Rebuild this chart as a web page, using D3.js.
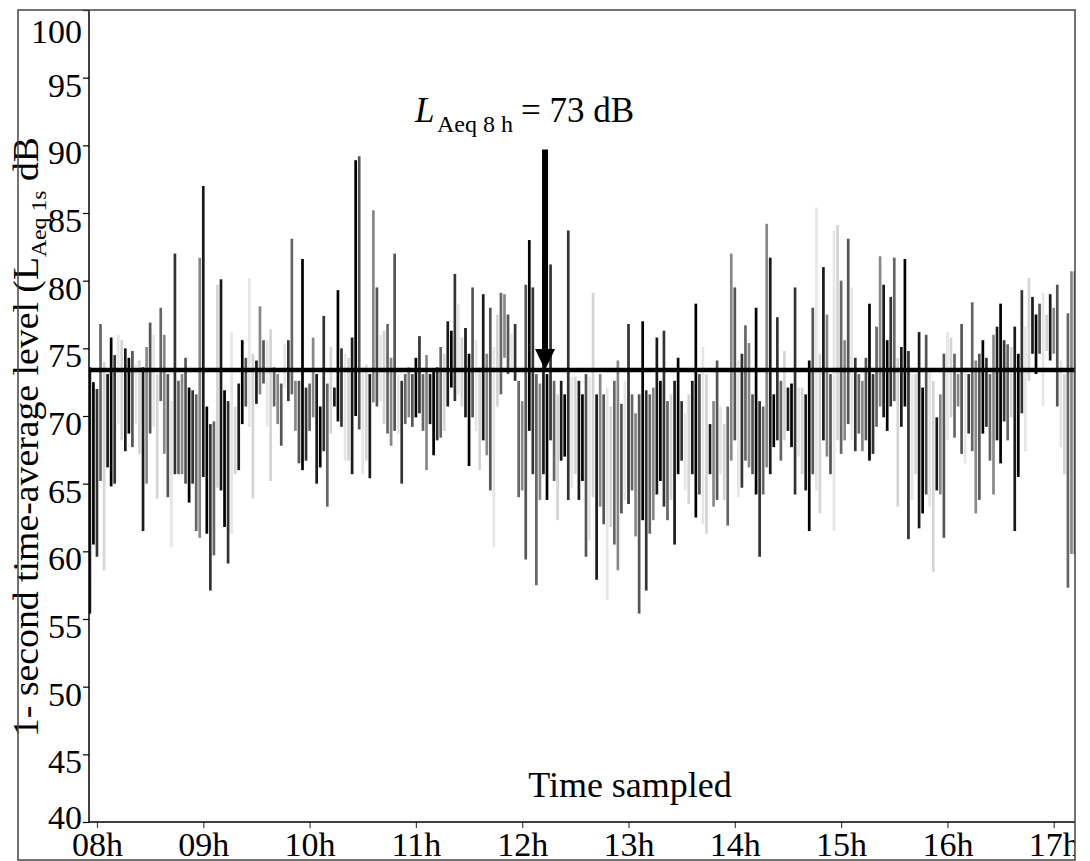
<!DOCTYPE html>
<html lang="en">
<head>
  <meta charset="UTF-8">
  <title>1-second LAeq over an 8 h shift</title>
  <script src="https://d3js.org/d3.v7.min.js"></script>
  <style>
    body { margin: 0; background: #fff; }
    svg { display: block; font-family: "Liberation Serif", "Times New Roman", serif; }
  </style>
</head>
<body>
  <svg width="1090" height="861"></svg>

  <script>
    // Sampling: one bin every 2 minutes, starting at 07:56
    const startHour = 7 + 56 / 60;
    const stepMinutes = 2;

    // Min / max of the 1-second levels (dB) inside each 2-minute bin
    const levelHigh = [
      73.6, 72.5, 72.0, 76.8, 74.0, 73.1, 75.8, 74.5, 76.0, 75.6,
      75.0, 74.3, 74.8, 73.8, 74.1, 73.6, 75.1, 76.9, 76.0, 73.1,
      78.0, 76.0, 73.1, 71.1, 82.0, 72.6, 73.1, 74.3, 72.1, 71.9,
      71.6, 81.7, 87.0, 70.7, 69.4, 69.6, 79.7, 80.1, 71.9, 71.1,
      76.2, 70.7, 72.4, 75.6, 74.3, 80.2, 74.6, 74.1, 78.1, 75.6,
      75.6, 76.4, 73.6, 73.1, 72.4, 75.3, 75.6, 83.1, 72.6, 72.6,
      81.6, 72.1, 72.4, 75.8, 73.1, 70.7, 77.4, 72.4, 75.1, 72.1,
      79.3, 75.0, 74.6, 74.3, 75.8, 88.9, 89.2, 73.6, 73.8, 73.1,
      85.2, 79.5, 76.0, 76.3, 76.8, 74.3, 82.0, 73.1, 72.6, 73.1,
      73.6, 73.1, 74.3, 75.9, 73.1, 74.5, 73.1, 73.3, 73.6, 75.1,
      74.6, 77.0, 76.3, 80.5, 78.3, 75.8, 76.5, 74.6, 79.5, 75.6,
      73.6, 79.0, 74.6, 78.0, 75.1, 77.5, 79.1, 79.0, 77.5, 76.1,
      76.8, 72.6, 71.1, 79.7, 83.0, 79.5, 73.1, 72.4, 81.7, 73.1,
      81.2, 72.6, 71.6, 72.6, 71.6, 83.7, 72.9, 72.9, 72.6, 71.6,
      73.1, 72.9, 79.1, 71.6, 73.1, 71.6, 72.1, 70.7, 72.6, 74.1,
      70.9, 72.6, 76.8, 71.6, 70.2, 71.6, 77.0, 71.9, 71.6, 72.1,
      75.8, 72.6, 76.3, 71.1, 71.6, 72.6, 74.3, 71.1, 70.2, 71.6,
      72.6, 78.3, 73.1, 75.1, 73.1, 69.4, 71.1, 74.1, 70.7, 69.4,
      70.7, 82.0, 79.5, 74.1, 74.6, 76.7, 75.4, 71.6, 78.0, 71.1,
      70.7, 84.2, 81.7, 71.6, 77.3, 72.6, 74.8, 72.1, 72.4, 79.5,
      72.1, 72.1, 71.6, 74.1, 78.0, 85.4, 74.6, 81.0, 77.5, 73.1,
      83.7, 84.1, 80.0, 75.6, 83.1, 79.5, 74.3, 73.1, 72.6, 74.3,
      78.3, 73.1, 76.6, 81.8, 79.7, 75.6, 78.8, 81.7, 74.3, 75.1,
      81.6, 74.8, 73.1, 73.1, 76.2, 72.1, 76.0, 73.4, 72.6, 69.9,
      71.6, 74.6, 76.2, 75.8, 74.6, 73.1, 76.8, 73.6, 73.1, 78.4,
      74.1, 74.6, 75.6, 74.3, 73.1, 76.0, 76.6, 78.3, 75.6, 75.3,
      75.1, 76.6, 74.6, 79.3, 76.6, 80.2, 78.8, 77.5, 78.3, 79.1,
      77.5, 79.0, 78.0, 79.7, 74.1, 73.1, 77.6, 80.7, 80.7
    ];
    const levelLow = [
      55.4, 60.5, 59.6, 65.2, 58.6, 66.2, 64.8, 65.0, 69.4, 68.2,
      67.4, 68.7, 67.7, 69.4, 67.2, 61.5, 65.0, 68.7, 69.2, 63.9,
      71.1, 67.2, 64.0, 60.3, 65.7, 65.7, 65.7, 65.0, 63.6, 65.0,
      61.5, 61.0, 65.5, 61.3, 57.1, 59.7, 64.7, 64.5, 61.8, 59.1,
      61.3, 65.7, 66.0, 69.4, 70.7, 69.2, 63.9, 70.9, 71.6, 72.4,
      69.2, 65.2, 70.7, 69.4, 67.8, 72.1, 71.1, 71.6, 68.9, 66.5,
      66.0, 66.7, 68.9, 69.9, 65.0, 66.2, 67.4, 63.3, 68.7, 70.7,
      69.6, 69.2, 66.7, 66.7, 65.7, 70.0, 69.0, 65.7, 66.7, 65.4,
      71.0, 70.7, 71.1, 69.4, 68.7, 67.8, 68.9, 68.7, 65.0, 69.4,
      69.9, 69.2, 69.9, 70.2, 68.9, 66.0, 69.4, 67.1, 68.2, 68.4,
      68.9, 70.7, 72.1, 71.1, 71.6, 70.7, 69.9, 66.3, 69.9, 68.9,
      66.0, 68.2, 67.1, 64.5, 60.3, 70.7, 71.6, 74.3, 73.1, 73.6,
      72.6, 64.0, 64.5, 59.4, 68.9, 65.7, 57.5, 63.8, 65.7, 63.8,
      68.2, 65.2, 62.3, 66.7, 67.0, 63.8, 64.7, 65.7, 63.8, 65.2,
      59.6, 60.8, 64.0, 57.9, 63.3, 62.0, 56.4, 61.8, 60.5, 58.6,
      62.8, 63.8, 63.5, 64.5, 61.1, 55.4, 62.3, 57.1, 61.3, 62.3,
      64.2, 65.2, 63.3, 62.3, 63.8, 60.5, 65.7, 66.7, 64.5, 63.5,
      65.7, 62.5, 64.2, 62.0, 61.3, 65.7, 63.3, 63.8, 65.7, 63.8,
      61.9, 66.7, 68.2, 64.0, 64.7, 66.7, 66.2, 65.7, 64.2, 59.6,
      64.2, 66.2, 65.7, 67.7, 68.2, 66.7, 68.2, 68.9, 67.7, 64.2,
      67.0, 65.7, 64.5, 61.5, 65.7, 64.5, 62.8, 68.2, 67.0, 65.7,
      61.5, 68.2, 67.2, 68.2, 69.4, 68.2, 67.4, 68.7, 67.4, 68.2,
      66.7, 67.2, 69.2, 70.7, 69.9, 68.9, 70.7, 71.1, 63.3, 69.2,
      70.7, 60.9, 63.8, 65.7, 61.7, 62.8, 64.2, 63.3, 58.5, 64.5,
      64.2, 61.0, 68.2, 69.9, 68.4, 70.7, 67.2, 66.5, 68.7, 67.4,
      62.8, 63.8, 68.7, 69.2, 66.7, 64.2, 68.2, 66.5, 69.6, 68.2,
      69.9, 61.5, 65.5, 70.2, 67.4, 72.6, 74.6, 73.1, 74.6, 70.7,
      74.8, 74.1, 74.6, 70.7, 67.7, 65.7, 57.3, 59.8, 59.8
    ];

    const hourTicks = [8, 9, 10, 11, 12, 13, 14, 15, 16, 17];
    const levelTicks = [40, 45, 50, 55, 60, 65, 70, 75, 80, 85, 90, 95, 100];

    // L_Aeq,8h reference line and annotation arrow (data units)
    const laeq8h = 73.4;
    const arrowHour = 12.215;
    const arrowTopLevel = 89.7;

    const svg = d3.select("svg");
    const frame = { left: 18, top: 10, right: 1075, bottom: 860 };
    const plot = { left: 89, top: 10, right: 1075, bottom: 822 };

    const x = d3.scaleLinear().domain([7.925, 17.2]).range([plot.left, plot.right]);
    const y = d3.scaleLinear().domain([40, 100]).range([plot.bottom, plot.top]);

    const defs = svg.append("defs");
    defs.append("clipPath").attr("id", "plot-clip")
      .append("rect")
      .attr("x", plot.left).attr("y", plot.top)
      .attr("width", plot.right - plot.left).attr("height", plot.bottom - plot.top);
    // only the right side is cut (the "17h" label runs into the frame)
    defs.append("clipPath").attr("id", "frame-clip")
      .append("rect")
      .attr("x", 0).attr("y", 0)
      .attr("width", frame.right).attr("height", 861);

    const root = svg.append("g").attr("clip-path", "url(#frame-clip)");

    // level bins as vertical strokes, with a mix of greys like the original plot
    const shades = ["#1a1a1a", "#666", "#e6e6e6", "#000", "#888", "#d4d4d4", "#333", "#555"];
    const bins = levelHigh.map((hi, i) => ({
      hour: startHour + i * stepMinutes / 60,
      lo: levelLow[i],
      hi: hi,
      i: i
    }));

    root.append("g")
      .attr("clip-path", "url(#plot-clip)")
      .selectAll("line")
      .data(bins)
      .join("line")
      .attr("x1", d => x(d.hour))
      .attr("x2", d => x(d.hour))
      .attr("y1", d => y(d.lo))
      .attr("y2", d => y(d.hi))
      .attr("stroke", d => shades[(d.i * 3 + (d.i >> 2)) % shades.length])
      .attr("stroke-width", 2.7);

    // LAeq 8h line
    root.append("line")
      .attr("x1", plot.left).attr("x2", plot.right)
      .attr("y1", y(laeq8h)).attr("y2", y(laeq8h))
      .attr("stroke", "#000")
      .attr("stroke-width", 4.5);

    // arrow
    const ax = x(arrowHour);
    const tipY = y(laeq8h);
    root.append("line")
      .attr("x1", ax).attr("x2", ax)
      .attr("y1", y(arrowTopLevel)).attr("y2", tipY - 18)
      .attr("stroke", "#000")
      .attr("stroke-width", 6);
    root.append("path")
      .attr("d", `M${ax - 10},${tipY - 21} L${ax + 10},${tipY - 21} L${ax},${tipY} Z`)
      .attr("fill", "#000");

    // axes
    const yAxis = root.append("g")
      .attr("transform", `translate(${plot.left},0)`)
      .call(d3.axisLeft(y).tickValues(levelTicks).tickSize(6).tickSizeOuter(0).tickPadding(1));
    yAxis.select(".domain").remove();
    yAxis.selectAll(".tick line").attr("stroke", "#000").attr("stroke-width", 1.2);
    yAxis.selectAll(".tick text")
      .attr("font-size", 34)
      .attr("font-family", "Liberation Serif")
      .attr("fill", "#000")
      .attr("dy", null)
      .attr("y", d => Math.min(Math.max(y(d) + 18.5, 42), 828) - y(d));

    const xAxis = root.append("g")
      .attr("transform", `translate(0,${plot.bottom})`)
      .call(d3.axisBottom(x).tickValues(hourTicks).tickSize(6).tickSizeOuter(0)
        .tickFormat(d => String(d).padStart(2, "0") + "h"));
    xAxis.select(".domain").remove();
    xAxis.selectAll(".tick line").attr("stroke", "#444").attr("stroke-width", 1.2);
    xAxis.selectAll(".tick text")
      .attr("font-size", 34)
      .attr("font-family", "Liberation Serif")
      .attr("fill", "#000")
      .attr("dy", null)
      .attr("y", 34);

    // plot border lines
    root.append("line")
      .attr("x1", plot.left).attr("x2", plot.left)
      .attr("y1", plot.top).attr("y2", plot.bottom)
      .attr("stroke", "#000").attr("stroke-width", 1.5);
    root.append("line")
      .attr("x1", plot.left).attr("x2", plot.right)
      .attr("y1", plot.bottom).attr("y2", plot.bottom)
      .attr("stroke", "#000").attr("stroke-width", 1.5);

    // axis titles
    root.append("text")
      .attr("x", 630).attr("y", 797)
      .attr("text-anchor", "middle")
      .attr("font-size", 36)
      .text("Time sampled");

    const yTitle = root.append("text")
      .attr("transform", "translate(38,737) rotate(-90)")
      .attr("font-size", 35)
      .attr("textLength", 600)
      .attr("lengthAdjust", "spacingAndGlyphs");
    yTitle.append("tspan").text("1- second time-average level (L");
    yTitle.append("tspan").attr("font-size", 22).attr("dy", 8).text("Aeq 1s");
    yTitle.append("tspan").attr("dy", -8).text(" dB");

    // annotation label
    const note = root.append("text").attr("font-size", 35).attr("y", 122);
    note.append("tspan").attr("x", 415).attr("font-style", "italic").text("L");
    note.append("tspan").attr("x", 437).attr("dy", 10).attr("font-size", 24).text("Aeq 8 h");
    note.append("tspan").attr("x", 521).attr("dy", -10).text("= 73 dB");

    // outer frame
    svg.append("rect")
      .attr("x", frame.left).attr("y", frame.top)
      .attr("width", frame.right - frame.left).attr("height", frame.bottom - frame.top)
      .attr("fill", "none")
      .attr("stroke", "#444")
      .attr("stroke-width", 1.5);
  </script>
</body>
</html>
